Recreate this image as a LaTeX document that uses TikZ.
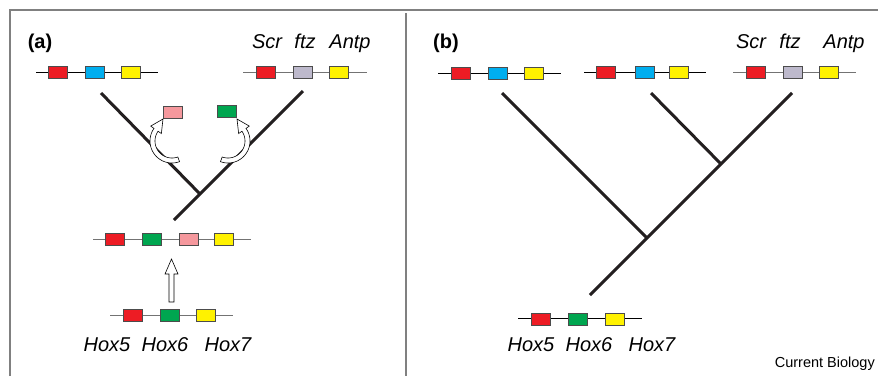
\documentclass[tikz,border=0pt]{standalone}
\usepackage{fontspec}
\setmainfont{Liberation Sans}
\definecolor{gred}{HTML}{ED1C24}
\definecolor{gblue}{HTML}{00AEEF}
\definecolor{gyellow}{HTML}{FFF200}
\definecolor{ggreen}{HTML}{00A650}
\definecolor{gpink}{HTML}{F5989D}
\definecolor{ggray}{HTML}{BDB9CC}
\definecolor{branch}{HTML}{231F20}
\definecolor{frame}{HTML}{808080}
\begin{document}
\begin{tikzpicture}[x=1pt,y=-1pt,
  gene/.style={draw=black!70, line width=0.8pt, minimum width=19pt, minimum height=12pt, inner sep=0pt, fill=#1},
  dnab/.style={draw=black, line width=0.9pt},
  dnag/.style={draw=black!55, line width=0.9pt},
  tree/.style={draw=branch, line width=3pt},
  hollow/.style={draw=black, line width=0.6pt, fill=white, line join=miter},
  lab/.style={font=\fontsize{20}{24}\selectfont\itshape, anchor=base, inner sep=0pt},
  plab/.style={font=\fontsize{20}{24}\selectfont\bfseries, anchor=base, inner sep=0pt}]
\useasboundingbox (0,0) rectangle (878,376);
\fill[white] (0,0) rectangle (878,376);
% frame
\draw[frame, line width=1.4pt] (10,376) -- (10,10) -- (878,10);
\draw[frame, line width=1.4pt] (406,13) -- (406,376);

% ---------- panel (a) ----------
\node[plab] (la) at (40,48) {(a)};
\node[lab] (aScr) at (267,48) {Scr};
\node[lab] (aftz) at (305,48) {ftz};
\node[lab] (aAntp) at (350,48) {Antp};

% tree (a)
\coordinate (aL) at (101,93);
\coordinate (aR) at (303,91);
\coordinate (aJ) at (200,194);
\coordinate (aRoot) at (174,220);
\draw[tree] (aL) -- (aJ);
\draw[tree] (aR) -- (aRoot);

% row a1
\coordinate (a1s) at (36,72); \coordinate (a1e) at (158,72);
\draw[dnab] (a1s) -- (a1e);
\node[gene=gred] (a1r) at (57.5,72) {};
\node[gene=gblue] (a1b) at (94.5,72) {};
\node[gene=gyellow] (a1y) at (131,72) {};
% row a2
\coordinate (a2s) at (243,72); \coordinate (a2e) at (367,72);
\draw[dnag] (a2s) -- (a2e);
\node[gene=gred] (a2r) at (265.5,72) {};
\node[gene=ggray] (a2g) at (302.5,72) {};
\node[gene=gyellow] (a2y) at (339,72) {};

% moving genes
\node[gene=gpink] (mpink) at (172.5,112) {};
\node[gene=ggreen] (mgreen) at (227,111) {};

% curved hollow arrows
\draw[hollow] plot[domain=70:215,samples=40] ({172+22*cos(\x)},{141+22*sin(\x)})
  -- ({172+26*cos(215)},{141+26*sin(215)}) -- (163,119)
  -- ({172+13*cos(215)},{141+13*sin(215)})
  -- plot[domain=215:70,samples=40] ({172+17*cos(\x)},{141+17*sin(\x)}) -- cycle;
\draw[hollow] plot[domain=110:-35,samples=40] ({228+22*cos(\x)},{141+22*sin(\x)})
  -- ({228+26*cos(-35)},{141+26*sin(-35)}) -- (237,119)
  -- ({228+13*cos(-35)},{141+13*sin(-35)})
  -- plot[domain=-35:110,samples=40] ({228+17*cos(\x)},{141+17*sin(\x)}) -- cycle;

% row a3
\coordinate (a3s) at (93,239); \coordinate (a3e) at (251,239);
\draw[dnag] (a3s) -- (a3e);
\node[gene=gred] (a3r) at (114.5,239) {};
\node[gene=ggreen] (a3g) at (151.5,239) {};
\node[gene=gpink] (a3p) at (188.5,239) {};
\node[gene=gyellow] (a3y) at (223.5,239) {};

% straight hollow arrow
\draw[hollow] (169,302) -- (169,274) -- (165,274) -- (171.5,259) -- (178,274) -- (174,274) -- (174,302) -- cycle;

% row a4
\coordinate (a4s) at (110,315); \coordinate (a4e) at (233,315);
\draw[dnag] (a4s) -- (a4e);
\node[gene=gred] (a4r) at (132.5,315) {};
\node[gene=ggreen] (a4g) at (169.5,315) {};
\node[gene=gyellow] (a4y) at (205.5,315) {};

\node[lab] (aH5) at (107,351) {Hox5};
\node[lab] (aH6) at (165,351) {Hox6};
\node[lab] (aH7) at (228,351) {Hox7};

% ---------- panel (b) ----------
\node[plab] (lb) at (446,48) {(b)};
\node[lab] (bScr) at (751,48) {Scr};
\node[lab] (bftz) at (790,48) {ftz};
\node[lab] (bAntp) at (844,48) {Antp};

% tree (b)
\coordinate (bL) at (502,93);
\coordinate (bM) at (651,93);
\coordinate (bR) at (792,93);
\coordinate (bJ1) at (647,238);
\coordinate (bJ2) at (721,164);
\coordinate (bRoot) at (590,295);
\draw[tree] (bL) -- (bJ1);
\draw[tree] (bM) -- (bJ2);
\draw[tree] (bR) -- (bRoot);

% row b1
\coordinate (b1s) at (438,73); \coordinate (b1e) at (561,73);
\draw[dnab] (b1s) -- (b1e);
\node[gene=gred] (b1r) at (460.5,73.5) {};
\node[gene=gblue] (b1b) at (497.5,73.5) {};
\node[gene=gyellow] (b1y) at (534,73.5) {};
% row b2
\coordinate (b2s) at (584,72); \coordinate (b2e) at (706,72);
\draw[dnab] (b2s) -- (b2e);
\node[gene=gred] (b2r) at (606,72.5) {};
\node[gene=gblue] (b2b) at (645,72.5) {};
\node[gene=gyellow] (b2y) at (679,72.5) {};
% row b3
\coordinate (b3s) at (733,72); \coordinate (b3e) at (856,72);
\draw[dnag] (b3s) -- (b3e);
\node[gene=gred] (b3r) at (755.5,72) {};
\node[gene=ggray] (b3g) at (792.5,72) {};
\node[gene=gyellow] (b3y) at (828.5,72) {};
% row b4
\coordinate (b4s) at (518,318.5); \coordinate (b4e) at (642,318.5);
\draw[dnab] (b4s) -- (b4e);
\node[gene=gred] (b4r) at (541,319) {};
\node[gene=ggreen] (b4g) at (578,319) {};
\node[gene=gyellow] (b4y) at (614.5,319) {};

\node[lab] (bH5) at (531,351) {Hox5};
\node[lab] (bH6) at (589,351) {Hox6};
\node[lab] (bH7) at (652,351) {Hox7};

\node[font=\fontsize{14.5}{17}\selectfont, anchor=base east, inner sep=0pt] (cb) at (875,367) {Current Biology};
\end{tikzpicture}
\end{document}
